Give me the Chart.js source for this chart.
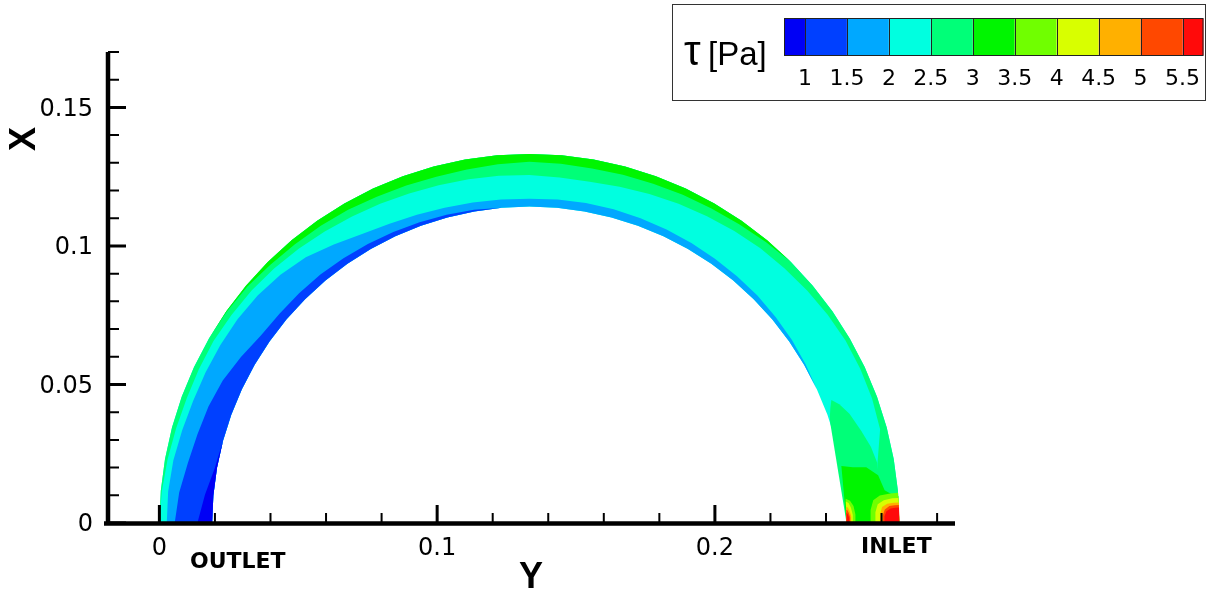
<html>
<head>
    <meta charset="UTF-8">
    <title>Wall shear stress</title>
    <script src="https://cdn.jsdelivr.net/npm/chart.js@4"></script>
    <style>
        body { margin: 0; background: #fff; }
        canvas { display: block; }
    </style>
</head>
<body>
<canvas id="chart" width="1209" height="589"></canvas>
<script>
    // pipe geometry (Y of the bend centre, outer and inner wall radius)
    const pipeCenterY = 0.1332;
    const outerRadius = 0.1332;
    const innerRadius = 0.1142;

    // angle round the bend, 0 = inlet (right), 180 = outlet (left)
    const wallAngles = [0, 5, 10, 15, 20, 25, 30, 35, 40, 45, 50, 55, 60, 65, 70, 75, 80, 85, 90,
        95, 100, 105, 110, 115, 120, 125, 130, 135, 140, 145, 150, 155, 160, 165, 170, 175, 180];

    // contour positions across the wall (0 = inner wall, 1 = outer wall)
    const edge25 = [0.6, 0.62, 0.69, 0.87, 0.9, 0.91, 0.91, 0.89, 0.86, 0.83, 0.8, 0.76, 0.72, 0.68, 0.64, 0.6, 0.57, 0.58, 0.6,
        0.61, 0.62, 0.63, 0.65, 0.68, 0.71, 0.75, 0.79, 0.83, 0.86, 0.88, 0.9, 0.9, 0.9, 0.92, 0.95, 0.98, 1];
    const edge30 = [1, 1, 1, 1, 1, 1, 1, 1, 1, 1, 0.96, 0.92, 0.89, 0.87, 0.85, 0.84, 0.83, 0.84, 0.85,
        0.83, 0.81, 0.8, 0.81, 0.83, 0.86, 0.88, 0.9, 0.93, 0.97, 0.99, 1, 1, 1, 1, 1, 1, 1];
    const edge20 = [0, 0, 0, 0, 0, 0, 0.03, 0.06, 0.08, 0.1, 0.11, 0.12, 0.13, 0.14, 0.15, 0.16, 0.16, 0.16, 0.15,
        0.16, 0.17, 0.19, 0.22, 0.26, 0.33, 0.45, 0.58, 0.66, 0.71, 0.74, 0.75, 0.76, 0.77, 0.8, 0.84, 0.86, 0.86];
    const edge15 = [0, 0, 0, 0, 0, 0, 0, 0, 0, 0, 0, 0, 0, 0, 0, 0, 0, 0, 0,
        0, 0.03, 0.05, 0.07, 0.09, 0.11, 0.13, 0.15, 0.16, 0.17, 0.2, 0.3, 0.4, 0.46, 0.5, 0.56, 0.65, 0.71];
    const edge10 = [0, 0, 0, 0, 0, 0, 0, 0, 0, 0, 0, 0, 0, 0, 0, 0, 0, 0, 0,
        0, 0, 0, 0, 0, 0, 0, 0, 0, 0, 0, 0, 0, 0, 0, 0.04, 0.16, 0.28];

    // patches near the inlet, [angle, wall fraction]
    const inletTongue = [[22.2, 0.17], [21, 0.1], [19.5, 0.03], [18.5, 0], [0, 0], [0, 0.7], [9.8, 0.68],
        [12.6, 0.62], [15.5, 0.52], [18.9, 0.4], [21, 0.28]];
    const inletGreen = [[0, 0], [10.4, 0], [9.8, 0.21], [9.4, 0.46], [7.8, 0.66], [5.3, 0.75], [4.4, 0.9], [4.2, 1], [0, 1]];
    const outerSpot35 = [[0, 0.45], [2.2, 0.46], [3.8, 0.52], [4.5, 0.65], [4.7, 0.85], [4.7, 1], [0, 1]];
    const outerSpot40 = [[0, 0.54], [1.8, 0.55], [3.1, 0.6], [3.7, 0.72], [3.9, 0.88], [3.9, 1], [0, 1]];
    const outerSpot45 = [[0, 0.63], [1.5, 0.64], [2.6, 0.68], [3.1, 0.78], [3.2, 0.9], [3.2, 1], [0, 1]];
    const outerSpot50 = [[0, 0.68], [1.3, 0.69], [2.2, 0.73], [2.7, 0.82], [2.8, 0.92], [2.8, 1], [0, 1]];
    const outerSpot55 = [[0, 0.71], [1.1, 0.72], [1.9, 0.76], [2.3, 0.84], [2.4, 0.93], [2.4, 1], [0, 1]];
    const innerSpot35 = [[0, 0], [0, 0.17], [1.5, 0.17], [3, 0.14], [4, 0.08], [4.4, 0]];
    const innerSpot40 = [[0, 0], [0, 0.12], [1.4, 0.12], [2.7, 0.09], [3.6, 0.05], [3.9, 0]];
    const innerSpot45 = [[0, 0], [0, 0.09], [1.2, 0.09], [2.2, 0.06], [2.8, 0.03], [2.9, 0]];
    const innerSpot50 = [[0, 0], [0, 0.07], [1, 0.07], [1.8, 0.045], [2.3, 0.02], [2.4, 0]];
    const innerSpot55 = [[0, 0], [0, 0.05], [0.9, 0.05], [1.5, 0.03], [1.9, 0]];

    // colour levels
    const levelTicks = [1, 1.5, 2, 2.5, 3, 3.5, 4, 4.5, 5, 5.5];
    const levelColors = ['#0000f5', '#0040ff', '#00a8ff', '#00ffe0', '#00ff78', '#00f500',
        '#70ff00', '#d8ff00', '#ffb000', '#ff4800', '#ff0a0a'];

    // axes
    const yMajorTicks = [0, 0.05, 0.1, 0.15];
    const yMinorTicks = [0.01, 0.02, 0.03, 0.04, 0.06, 0.07, 0.08, 0.09, 0.11, 0.12, 0.13, 0.14, 0.16, 0.17];
    const xMajorTicks = [0, 0.1, 0.2];
    const xMinorTicks = [0.02, 0.04, 0.06, 0.08, 0.12, 0.14, 0.16, 0.18, 0.22, 0.24, 0.26, 0.28];
    const tickLabels = {0: '0', 0.05: '0.05', 0.1: '0.1', 0.15: '0.15', 0.2: '0.2'};

    function polar(angle, frac) {
        const rho = innerRadius + frac * (outerRadius - innerRadius);
        const a = angle * Math.PI / 180;
        return {x: pipeCenterY + rho * Math.cos(a), y: rho * Math.sin(a)};
    }

    function outerBand(edge) {
        const pts = wallAngles.map((a, i) => [a, edge[i]]);
        for (let i = wallAngles.length - 1; i >= 0; i--) pts.push([wallAngles[i], 1]);
        return pts;
    }

    function innerBand(edge) {
        const pts = wallAngles.map(a => [a, 0]);
        for (let i = wallAngles.length - 1; i >= 0; i--) pts.push([wallAngles[i], edge[i]]);
        return pts;
    }

    // painter order, bottom first
    const layers = [
        [outerBand(wallAngles.map(() => 0)), levelColors[3]],
        [outerBand(edge25), levelColors[4]],
        [inletTongue, levelColors[4]],
        [outerBand(edge30), levelColors[5]],
        [innerBand(edge20), levelColors[2]],
        [innerBand(edge15), levelColors[1]],
        [innerBand(edge10), levelColors[0]],
        [inletGreen, levelColors[5]],
        [outerSpot35, levelColors[6]],
        [innerSpot35, levelColors[6]],
        [outerSpot40, levelColors[7]],
        [innerSpot40, levelColors[7]],
        [outerSpot45, levelColors[8]],
        [innerSpot45, levelColors[8]],
        [outerSpot50, levelColors[9]],
        [innerSpot50, levelColors[9]],
        [outerSpot55, levelColors[10]],
        [innerSpot55, levelColors[10]]
    ];

    const datasets = layers.map((l, i) => ({
        data: l[0].map(p => polar(p[0], p[1])),
        showLine: true,
        fill: 'shape',
        backgroundColor: l[1],
        borderColor: l[1],
        borderWidth: 0,
        pointRadius: 0,
        tension: 0,
        order: layers.length - i
    }));

    const tecplotAxes = {
        id: 'tecplotAxes',
        afterDraw(chart) {
            const ctx = chart.ctx;
            const xs = chart.scales.x, ys = chart.scales.y;
            const left = chart.chartArea.left, bottom = chart.chartArea.bottom;
            ctx.save();
            ctx.strokeStyle = '#000';
            ctx.fillStyle = '#000';

            ctx.lineWidth = 4.5;
            ctx.beginPath();
            ctx.moveTo(left, chart.chartArea.top);
            ctx.lineTo(left, bottom + 2);
            ctx.moveTo(left - 4, bottom + 0.5);
            ctx.lineTo(chart.chartArea.right + 4, bottom + 0.5);
            ctx.stroke();

            function ticks(list, len, w, vertical) {
                ctx.lineWidth = w;
                ctx.beginPath();
                for (const v of list) {
                    if (vertical) {
                        const py = ys.getPixelForValue(v);
                        ctx.moveTo(left, py);
                        ctx.lineTo(left + len, py);
                    } else {
                        const px = xs.getPixelForValue(v);
                        ctx.moveTo(px, bottom);
                        ctx.lineTo(px, bottom - len);
                    }
                }
                ctx.stroke();
            }
            ticks(yMajorTicks, 18, 3, true);
            ticks(yMinorTicks, 11, 2, true);
            ticks(xMajorTicks, 18, 3, false);
            ticks(xMinorTicks, 10, 2, false);

            ctx.font = '24px "DejaVu Sans"';
            ctx.textAlign = 'right';
            ctx.textBaseline = 'middle';
            for (const v of yMajorTicks) ctx.fillText(tickLabels[v], 93, ys.getPixelForValue(v) + 2);
            ctx.textAlign = 'center';
            ctx.textBaseline = 'alphabetic';
            for (const v of xMajorTicks) ctx.fillText(tickLabels[v], xs.getPixelForValue(v), 555);

            ctx.font = 'bold 36px "Liberation Sans"';
            ctx.fillText('Y', 531, 588);
            ctx.save();
            ctx.translate(25, 139);
            ctx.rotate(-Math.PI / 2);
            ctx.textBaseline = 'middle';
            ctx.fillText('X', 0, 0);
            ctx.restore();

            ctx.font = 'bold 22px "DejaVu Sans"';
            ctx.textAlign = 'left';
            ctx.fillText('OUTLET', 190, 568);
            ctx.fillText('INLET', 861, 553);

            // colour legend
            ctx.fillStyle = '#fff';
            ctx.fillRect(672, 4, 534, 96);
            ctx.strokeStyle = '#333';
            ctx.lineWidth = 1;
            ctx.strokeRect(672.5, 4.5, 533, 96);
            ctx.fillStyle = '#000';
            ctx.font = '42px "Liberation Sans"';
            ctx.fillText('\u03c4', 684, 65);
            ctx.font = '33px "Liberation Sans"';
            ctx.fillText('[Pa]', 708, 65);

            const barL = 784, barR = 1203.5, barT = 18.5, barB = 55.5;
            const lo = 0.75, hi = 5.75;
            const bx = v => barL + (v - lo) / (hi - lo) * (barR - barL);
            for (let k = 0; k < levelColors.length; k++) {
                const a = k === 0 ? lo : levelTicks[k - 1];
                const b = k === levelColors.length - 1 ? hi : levelTicks[k];
                ctx.fillStyle = levelColors[k];
                ctx.fillRect(bx(a), barT, bx(b) - bx(a), barB - barT);
            }
            ctx.strokeStyle = '#222';
            ctx.beginPath();
            for (const t of levelTicks) {
                ctx.moveTo(Math.round(bx(t)) + 0.5, barT);
                ctx.lineTo(Math.round(bx(t)) + 0.5, barB);
            }
            ctx.stroke();
            ctx.strokeRect(barL + 0.5, barT, barR - barL - 1, barB - barT);

            ctx.fillStyle = '#000';
            ctx.font = '22px "DejaVu Sans"';
            ctx.textAlign = 'center';
            for (const t of levelTicks) ctx.fillText(String(t), bx(t), 85);
            ctx.restore();
        }
    };

    new Chart(document.getElementById('chart'), {
        type: 'scatter',
        data: {datasets},
        options: {
            responsive: false,
            animation: false,
            events: [],
            layout: {padding: {left: 108, right: 258, top: 52, bottom: 66}},
            scales: {
                x: {type: 'linear', min: -0.0185, max: 0.285, display: false},
                y: {type: 'linear', min: 0, max: 0.17, display: false}
            },
            plugins: {legend: {display: false}, tooltip: {enabled: false}}
        },
        plugins: [tecplotAxes]
    });
</script>
</body>
</html>
